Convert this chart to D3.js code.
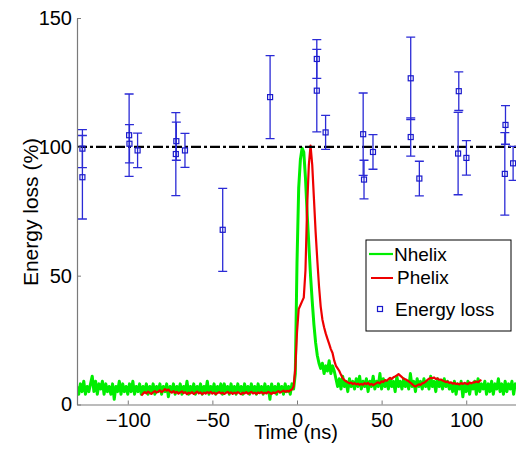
<!DOCTYPE html>
<html>
<head>
<meta charset="utf-8">
<script src="https://cdn.jsdelivr.net/npm/d3@7"></script>
<style>
  body { margin: 0; background: #fff; }
  text { font-family: "Liberation Sans", Arial, sans-serif; }
</style>
</head>
<body>
<div id="chart"></div>
<script>
// Nhelix trace, one value per ns from -130 to 130
var nhelixStart = -130;
var nhelixValues = [
  7,4,8,5,9,4,7,5,8,11,
  5,9,4,8,6,9,4,8,5,7,
  4,8,2,7,5,9,4,8,5,7,
  4,8,5,9,4,7,5,8,4,7,
  5,8,4,7,5,8,4,7,5,8,
  4,7,5,8,3,7,5,8,4,7,
  5,8,4,7,5,9,4,7,5,8,
  4,7,5,8,4,7,5,9,4,7,
  5,8,4,7,5,8,4,8,5,7,
  4,8,5,7,4,8,5,7,4,8,
  5,7,4,8,5,7,4,8,5,7,
  4,8,5,7,2,8,5,7,4,8,
  5,7,4,8,5,7,4,8,6,12,
  55,84,95,99.5,98,88,74,62,50,40,31,24,19,16,14,
  16,12,15,13,17,12,15,13,
  10,
  7,10,6,11,7,9,5,10,7,9,
  6,10,7,11,6,9,7,10,5,9,
  7,11,6,9,7,12,6,10,7,9,
  6,10,7,9,5,11,7,9,6,10,
  7,9,6,12,7,9,5,10,7,9,
  6,10,7,9,6,11,7,9,5,10,
  7,9,6,10,7,9,6,8,5,9,
  4,8,6,9,3,8,5,9,4,8,
  6,9,4,10,5,8,6,9,4,8,
  5,9,4,8,6,10,5,8,4,9,
  5,8,6,9,4,8,6
];

// Phelix trace, one value per ns from -92 to 109
var phelixStart = -92;
var phelixValues = [
  3.5,4.2,4.8,4.3,5.0,4.5,4.1,4.8,5.2,4.6,
  5.0,5.5,4.8,5.3,6.0,5.4,5.8,5.0,4.6,5.2,
  4.5,4.9,4.2,4.7,5.1,4.4,4.8,4.0,4.6,4.3,
  4.8,4.1,4.5,5.0,4.3,4.7,4.0,4.6,4.2,4.8,
  4.4,4.9,4.2,4.6,4.0,4.5,4.8,4.3,4.6,4.1,
  4.5,4.9,4.3,4.7,4.1,4.6,4.2,4.8,4.4,4.0,
  4.6,4.3,4.8,4.2,4.5,4.9,4.3,4.6,4.1,4.7,
  4.4,4.8,4.2,4.6,4.3,4.9,4.5,4.1,4.7,4.4,
  4.8,5.2,4.6,5.0,5.4,4.9,5.3,5.0,5.5,5.8,
  7,14,28,37,38.5,40,41.5,52,77,93,
  100.5,93,80,67,56,46,38,33,30,27.5,
  25.5,23.5,21.5,20,17,15,14,13,11.5,10.2,
  9.5,9.0,8.6,8.2,8.5,7.9,8.3,7.8,8.1,7.6,
  8.0,7.7,8.3,7.9,8.4,7.6,8.0,7.5,7.9,8.3,
  8.6,8.2,9.0,8.7,9.5,9.2,9.8,10.3,9.9,10.6,
  10.9,11.3,11.8,11.2,10.6,10.0,9.8,9.4,9.0,8.5,
  7.9,7.3,7.0,7.4,7.8,7.6,8.2,8.4,8.9,9.5,
  10.0,10.3,10.2,10.5,9.9,10.1,9.6,9.7,9.3,9.0,
  8.7,8.9,8.4,8.6,8.1,8.3,8.0,8.1,7.8,8.3,
  8.0,8.4,8.1,7.9,8.5,8.2,8.6,8.6,8.9,8.7,
  9.2,9.5
];

// Energy loss measurements (time ns, value %, error %)
var lossTime  = [-126.8,-126.8,-99.2,-99.0,-94.2,-71.6,-71.3,-66.2,-43.9,-15.9,
                 11.7,11.7,16.9,39.1,39.6,44.9,67.2,67.2,72.3,95.6,95.2,100.1,123.2,122.8,127.7];
var lossValue = [99.3,88.2,104.5,101.2,98.6,97.2,102.2,98.6,67.8,119.3,
                 134.1,121.8,105.6,104.9,87.3,98.0,126.6,103.8,87.7,121.6,97.4,95.7,108.5,89.5,93.6];
var lossErr   = [7.4,16.2,16,7.4,6.7,16.1,7.4,6.6,16.1,16.1,
                 7.5,16,6.6,16,7.5,6.7,16,7.4,6.7,7.5,16,6.7,7.5,16,6.6];

var xTicks = [-100, -50, 0, 50, 100];
var yTicks = [0, 50, 100, 150];

var svgWidth = 516;
var svgHeight = 451;

var svg = d3.select("#chart")
  .append("svg")
  .attr("width", svgWidth)
  .attr("height", svgHeight);

var xScale = d3.scaleLinear().domain([-130, 130]).range([77, 517]);
var yScale = d3.scaleLinear().domain([0, 150]).range([404.5, 18]);

svg.append("clipPath").attr("id", "plotClip")
  .append("rect")
  .attr("x", 77).attr("y", 0)
  .attr("width", 440).attr("height", 404.5);

var nhelix = nhelixValues.map((v, i) => [nhelixStart + i, v]);
var phelix = phelixValues.map((v, i) => [phelixStart + i, v]);

var line = d3.line()
  .x(d => xScale(d[0]))
  .y(d => yScale(d[1]));

var plot = svg.append("g").attr("clip-path", "url(#plotClip)");

plot.append("path")
  .datum(nhelix)
  .attr("d", line)
  .attr("fill", "none")
  .attr("stroke", "#00ee00")
  .attr("stroke-width", 3)
  .attr("stroke-linejoin", "round");

plot.append("path")
  .datum(phelix)
  .attr("d", line)
  .attr("fill", "none")
  .attr("stroke", "#ee0000")
  .attr("stroke-width", 2.2)
  .attr("stroke-linejoin", "round");

// 100% reference line
plot.append("line")
  .attr("x1", xScale(-130)).attr("x2", xScale(130))
  .attr("y1", yScale(100)).attr("y2", yScale(100))
  .attr("stroke", "#000")
  .attr("stroke-width", 2.4)
  .attr("stroke-dasharray", "10,3,3,3");

// Error bars and markers
var loss = lossTime.map((t, i) => ({t: t, v: lossValue[i], e: lossErr[i]}));
var capW = 4.5;
var errGroup = svg.append("g")
  .attr("stroke", "#2b2bd6")
  .attr("stroke-width", 1.3)
  .attr("fill", "none");

errGroup.selectAll(".bar")
  .data(loss)
  .enter()
  .append("path")
  .attr("d", d => {
    var x = xScale(d.t), y0 = yScale(d.v - d.e), y1 = yScale(d.v + d.e);
    return `M${x},${y0}V${y1}M${x - capW},${y0}H${x + capW}M${x - capW},${y1}H${x + capW}`;
  });

errGroup.selectAll(".mark")
  .data(loss)
  .enter()
  .append("rect")
  .attr("x", d => xScale(d.t) - 2.5)
  .attr("y", d => yScale(d.v) - 2.5)
  .attr("width", 5)
  .attr("height", 5)
  .attr("stroke", "#1a1acc")
  .attr("stroke-width", 1.2);

// Axes
var bottomAxis = d3.axisBottom(xScale)
  .tickValues(xTicks)
  .tickSize(-4)
  .tickSizeOuter(0)
  .tickPadding(8);
var leftAxis = d3.axisLeft(yScale)
  .tickValues(yTicks)
  .tickSize(-4)
  .tickSizeOuter(0)
  .tickPadding(5);

var gx = svg.append("g")
  .attr("transform", `translate(0, ${yScale(0)})`)
  .call(bottomAxis);
var gy = svg.append("g")
  .attr("transform", `translate(${xScale(-130)}, 0)`)
  .call(leftAxis);

[gx, gy].forEach(g => {
  g.select(".domain").attr("stroke", "#7a7a7a").attr("stroke-width", 1.2);
  g.selectAll(".tick line").attr("stroke", "#7a7a7a");
  g.selectAll(".tick text")
    .attr("fill", "#000")
    .attr("font-size", "20px")
    .attr("font-family", "Liberation Sans, Arial, sans-serif");
});

// Axis labels
svg.append("text")
  .attr("transform", "translate(38, 212) rotate(-90)")
  .attr("text-anchor", "middle")
  .attr("font-size", "21px")
  .text("Energy loss (%)");

svg.append("text")
  .attr("x", 296)
  .attr("y", 439)
  .attr("text-anchor", "middle")
  .attr("font-size", "20px")
  .text("Time (ns)");

// Legend
var legend = svg.append("g");
legend.append("rect")
  .attr("x", 366).attr("y", 240)
  .attr("width", 145).attr("height", 91)
  .attr("fill", "#fff")
  .attr("stroke", "#000")
  .attr("stroke-width", 1);

legend.append("line")
  .attr("x1", 369).attr("x2", 393).attr("y1", 254).attr("y2", 254)
  .attr("stroke", "#00ee00").attr("stroke-width", 2.2);
legend.append("text")
  .attr("x", 394).attr("y", 261)
  .attr("font-size", "19px")
  .text("Nhelix");

legend.append("line")
  .attr("x1", 371).attr("x2", 393).attr("y1", 278).attr("y2", 278)
  .attr("stroke", "#ee0000").attr("stroke-width", 2);
legend.append("text")
  .attr("x", 397).attr("y", 284)
  .attr("font-size", "19px")
  .text("Phelix");

legend.append("rect")
  .attr("x", 377.5).attr("y", 306.5)
  .attr("width", 5).attr("height", 5)
  .attr("fill", "none")
  .attr("stroke", "#1a1acc")
  .attr("stroke-width", 1.2);
legend.append("text")
  .attr("x", 395).attr("y", 316)
  .attr("font-size", "19px")
  .text("Energy loss");
</script>
</body>
</html>
